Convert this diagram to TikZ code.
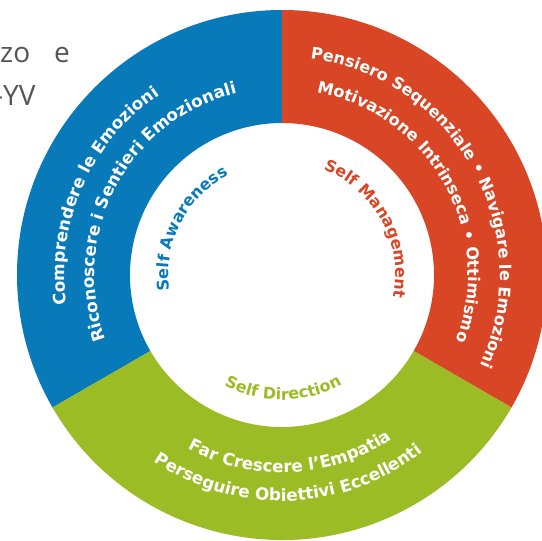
\documentclass[tikz,border=0pt]{standalone}
\usepackage{fontspec}
\usepackage{xcolor}
\usetikzlibrary{decorations.text}

\newfontfamily\wheelfont{DejaVu Sans}
\newfontfamily\notefont{Open Sans}
\definecolor{wheelblue}{RGB}{8,122,186}
\definecolor{wheelred}{RGB}{216,70,38}
\definecolor{wheelgreen}{RGB}{156,188,38}
\definecolor{notegray}{RGB}{85,85,85}
\newcommand{\ringfont}[1]{\wheelfont\bfseries\fontsize{#1}{20}\selectfont}
\newcommand{\labelfont}{\wheelfont\bfseries\fontsize{16}{19}\selectfont}

\tikzset{
  ringtext/.style 2 args={decorate,decoration={text along path,text align=center,
      text color=white,text={|\ringfont{#1}|#2}}},
  labeltext/.style 2 args={decorate,decoration={text along path,text align=center,
      text color=#1,text={|\labelfont|#2}}},
  notetext/.style={font=\notefont\fontsize{28}{34}\selectfont,text=notegray,inner sep=0}
}

\begin{document}
\begin{tikzpicture}[x=1pt,y=1pt]
\useasboundingbox (-282,-266) rectangle (260,275);
% text behind the wheel
\node[notetext,anchor=base west] (notezo) at (-282,212) {zo\hspace{24pt}e};
\node[notetext,anchor=base west] (noteyv) at (-288,169.5) {-YV};
% the three sectors
\fill[wheelblue] (90:265) arc[start angle=90,end angle=210,radius=265]
  -- (210:152) arc[start angle=210,end angle=90,radius=152] -- cycle;
\fill[wheelred] (90:265) arc[start angle=90,end angle=-30,radius=265]
  -- (-30:152) arc[start angle=-30,end angle=90,radius=152] -- cycle;
\fill[wheelgreen] (210:265) arc[start angle=210,end angle=330,radius=265]
  -- (330:152) arc[start angle=330,end angle=210,radius=152] -- cycle;
% ring texts
\path[ringtext={16.8}{Comprendere le Emozioni}] (246:217.5) arc[start angle=246,end angle=66,radius=217.5];
\path[ringtext={16.8}{Riconoscere i Sentieri Emozionali}] (242:187.5) arc[start angle=242,end angle=62,radius=187.5];
\path[ringtext={16.1}{Pensiero Sequenziale • Navigare le Emozioni}] (119:218) arc[start angle=119,end angle=-61,radius=218];
\path[ringtext={16.2}{Motivazione Intrinseca • Ottimismo}] (119.3:186) arc[start angle=119.3,end angle=-60.7,radius=186];
\path[ringtext={16.8}{Far Crescere l’Empatia}] (182.6:197.5) arc[start angle=182.6,end angle=362.6,radius=197.5];
\path[ringtext={16.8}{Perseguire Obiettivi Eccellenti}] (182:226) arc[start angle=182,end angle=362,radius=226];
% inner labels
\path[labeltext={wheelblue}{Self Awareness}] (243:113.5) arc[start angle=243,end angle=63,radius=113.5];
\path[labeltext={wheelred}{Self Management}] (118.7:113.5) arc[start angle=118.7,end angle=-61.3,radius=113.5];
\path[labeltext={wheelgreen}{Self Direction}] (180.6:125) arc[start angle=180.6,end angle=360.6,radius=125];
\end{tikzpicture}
\end{document}
